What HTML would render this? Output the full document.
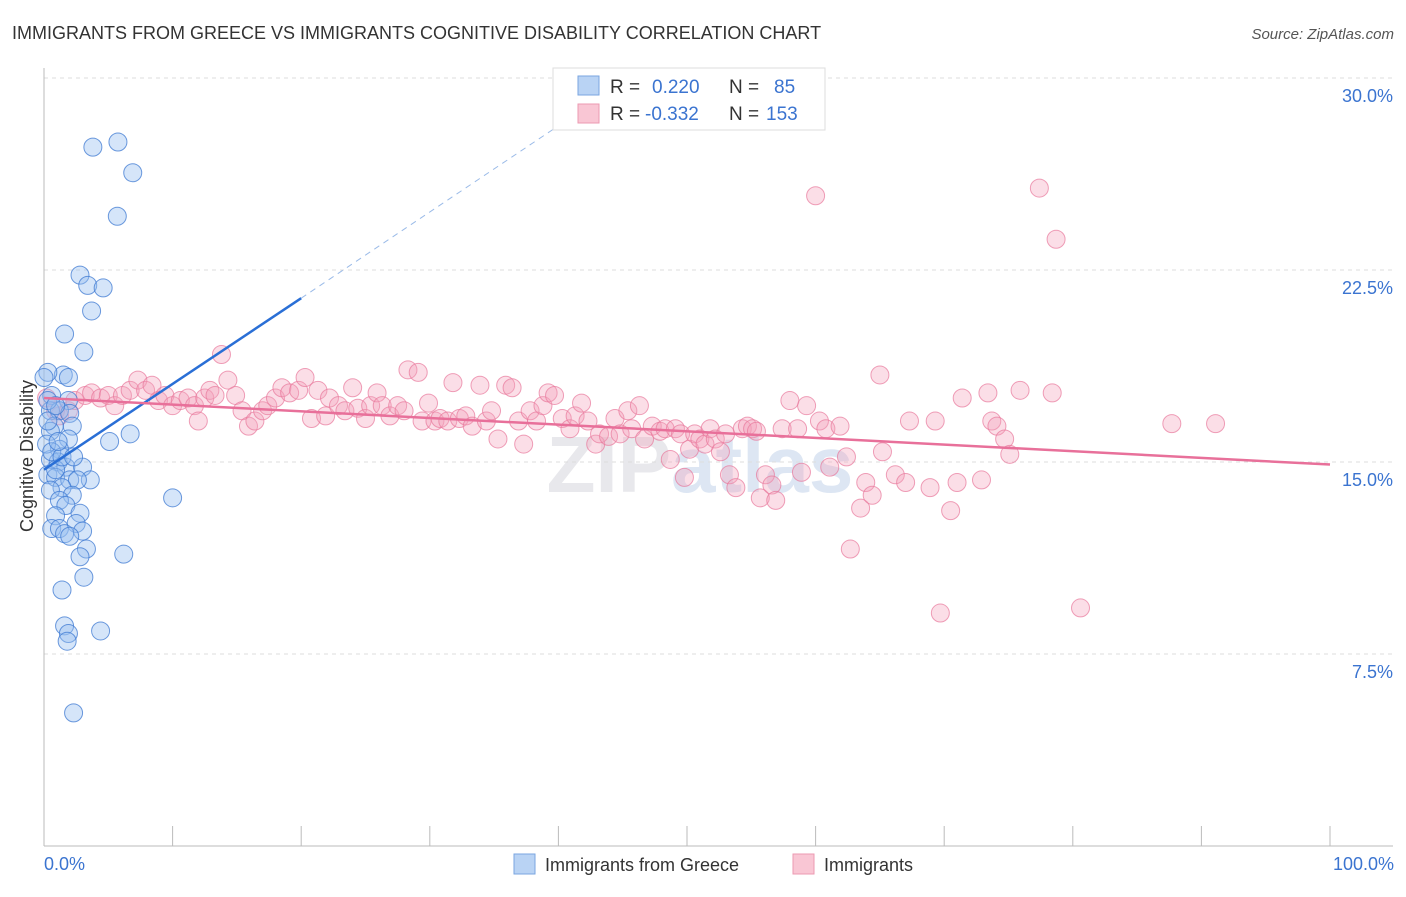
<!DOCTYPE html>
<html><head><meta charset="utf-8"><style>
body{margin:0;background:#fff;font-family:"Liberation Sans",sans-serif;}
svg text{font-family:"Liberation Sans",sans-serif;}
</style></head><body>
<svg id="chart" width="1406" height="892" xmlns="http://www.w3.org/2000/svg">
<text x="12" y="39" font-size="18" fill="#333">IMMIGRANTS FROM GREECE VS IMMIGRANTS COGNITIVE DISABILITY CORRELATION CHART</text>
<text x="1394" y="39" font-size="15" fill="#555" text-anchor="end" font-style="italic">Source: ZipAtlas.com</text>
<text x="700" y="492" font-size="80" fill="#e8e8ec" text-anchor="middle" font-weight="bold">ZIP<tspan fill="#dde6f3">atlas</tspan></text>
<g id="grid"></g>
<g id="axes"></g>
<g id="pink"></g>
<g id="blue"></g>
<g id="trends"></g>
<text transform="translate(33,456) rotate(-90)" font-size="18" fill="#333" text-anchor="middle">Cognitive Disability</text>
<text x="44" y="870" font-size="18" fill="#3b74d0">0.0%</text>
<text x="1394" y="870" font-size="18" fill="#3b74d0" text-anchor="end">100.0%</text>
<g>
<rect x="553" y="68" width="272" height="62" fill="#fff" stroke="#ddd"/>
<rect x="578" y="76" width="21" height="19" fill="#b9d3f4" stroke="#7aa6e0"/>
<rect x="578" y="104" width="21" height="19" fill="#f9c6d4" stroke="#ec9ab2"/>
<text x="610" y="93" font-size="19" fill="#333">R =</text><text x="652" y="93" font-size="19" fill="#3b74d0">0.220</text>
<text x="729" y="93" font-size="19" fill="#333">N =</text><text x="774" y="93" font-size="19" fill="#3b74d0">85</text>
<text x="610" y="120" font-size="19" fill="#333">R =</text><text x="645" y="120" font-size="19" fill="#3b74d0">-0.332</text>
<text x="729" y="120" font-size="19" fill="#333">N =</text><text x="766" y="120" font-size="19" fill="#3b74d0">153</text>
</g>
<g>
<rect x="514" y="854" width="21" height="20" fill="#b9d3f4" stroke="#7aa6e0"/>
<text x="545" y="871" font-size="18" fill="#333">Immigrants from Greece</text>
<rect x="793" y="854" width="21" height="20" fill="#f9c6d4" stroke="#ec9ab2"/>
<text x="824" y="871" font-size="18" fill="#333">Immigrants</text>
</g>
</svg>
<script>
const yTicks=[7.5,15,22.5,30];
const yTickLabels=["7.5%","15.0%","22.5%","30.0%"];
const xTicks=[0,10,20,30,40,50,60,70,80,90,100];
const blueX=[5.75,3.8,6.9,5.7,2.8,3.4,4.6,3.7,1.6,3.1,1.5,1.9,0.3,0.6,1.9,0.5,1.2,2.0,0.8,2.2,0.5,1.9,6.7,5.1,1.2,0.5,1.1,1.7,3.0,0.3,0.9,2.0,3.6,2.6,1.4,0.5,2.2,10.0,1.2,1.7,2.8,0.9,2.5,0.6,1.2,1.6,3.0,2.0,3.3,2.8,6.2,3.1,1.4,1.6,1.9,1.8,4.4,2.3,0.3,0.2,0.6,0.9,1.4,2.3,1.1,0.3,0.9,0.0];
const blueY=[27.5,27.3,26.3,24.6,22.3,21.9,21.8,20.9,20.0,19.3,18.4,18.3,18.5,17.6,17.4,17.0,17.0,16.9,16.4,16.4,16.2,15.9,16.1,15.8,15.5,15.1,15.0,14.8,14.8,14.5,14.4,14.3,14.3,14.3,14.0,13.9,13.7,13.6,13.5,13.3,13.0,12.9,12.6,12.4,12.4,12.2,12.3,12.1,11.6,11.3,11.4,10.5,10.0,8.6,8.3,8.0,8.4,5.2,16.6,15.7,15.4,14.7,15.2,15.2,15.8,17.4,17.2,18.3];
const pinkX=[0.2,0.9,1.2,1.9,2.4,3.2,3.7,4.4,5.0,5.5,6.1,6.7,7.3,7.9,8.4,8.9,9.4,10.0,10.6,11.2,11.7,12.0,12.5,12.9,13.3,13.8,14.3,14.9,15.4,15.9,16.4,17.0,17.4,18.0,18.5,19.1,19.8,20.3,20.8,21.3,21.9,22.2,22.9,23.4,24.0,24.4,25.0,25.4,25.9,26.3,26.9,27.5,28.0,28.3,29.1,29.4,29.9,30.4,30.8,31.4,31.8,32.3,32.8,33.3,33.9,34.4,34.8,35.3,35.9,36.4,36.9,37.3,37.8,38.3,38.8,39.2,39.7,40.3,40.9,41.3,41.8,42.3,42.9,43.2,43.9,44.4,44.8,45.4,45.7,46.3,46.7,47.3,47.9,48.3,48.7,49.1,49.5,49.8,50.2,50.6,51.0,51.4,51.8,52.2,52.6,53.0,53.3,53.8,54.3,54.7,55.1,55.4,55.7,56.1,56.6,56.9,57.4,58.0,58.6,58.9,59.3,60.0,60.3,60.8,61.1,61.9,62.4,62.7,63.5,63.9,64.4,65.0,65.2,66.2,67.0,67.3,68.9,69.3,69.7,70.5,71.0,71.4,72.9,73.4,73.7,74.1,74.7,75.1,75.9,77.4,78.4,78.7,80.6,87.7,91.1];
const pinkY=[17.5,17.0,16.8,17.0,17.4,17.6,17.7,17.5,17.6,17.2,17.6,17.8,18.2,17.8,18.0,17.4,17.6,17.2,17.4,17.5,17.2,16.6,17.5,17.8,17.6,19.2,18.2,17.6,17.0,16.4,16.6,17.0,17.2,17.5,17.9,17.7,17.8,18.3,16.7,17.8,16.8,17.5,17.2,17.0,17.9,17.1,16.7,17.2,17.7,17.2,16.8,17.2,17.0,18.6,18.5,16.6,17.3,16.6,16.7,16.6,18.1,16.7,16.8,16.4,18.0,16.6,17.0,15.9,18.0,17.9,16.6,15.7,17.0,16.6,17.2,17.7,17.6,16.7,16.3,16.8,17.3,16.6,15.7,16.1,16.0,16.7,16.1,17.0,16.3,17.2,15.9,16.4,16.2,16.3,15.1,16.3,16.1,14.4,15.5,16.1,15.9,15.7,16.3,15.9,15.4,16.1,14.5,14.0,16.3,16.4,16.3,16.2,13.6,14.5,14.1,13.5,16.3,17.4,16.3,14.6,17.2,25.4,16.6,16.3,14.8,16.4,15.2,11.6,13.2,14.2,13.7,18.4,15.4,14.5,14.2,16.6,14.0,16.6,9.1,13.1,14.2,17.5,14.3,17.7,16.6,16.4,15.9,15.3,17.8,25.7,17.7,23.7,9.3,16.5,16.5];
const NS="http://www.w3.org/2000/svg";
const X0=44,X1=1330,YB=846,YT=78;
function sx(v){return X0+(X1-X0)*v/100;}
function sy(v){return YB-(YB-YT)*v/30;}
function mk(tag,attrs,parent){const e=document.createElementNS(NS,tag);for(const k in attrs)e.setAttribute(k,attrs[k]);document.getElementById(parent).appendChild(e);return e;}
yTicks.forEach((t,i)=>{
  const l=mk('line',{x1:X0,x2:1393,y1:sy(t),y2:sy(t),stroke:'#ddd','stroke-dasharray':'4,4'},'grid');
  
  
  const tx=mk('text',{x:1393,y:sy(t)+24,'font-size':18,fill:'#3b74d0','text-anchor':'end'},'grid');
  tx.textContent=yTickLabels[i];
  
  
});
const ya=mk('line',{x1:X0,x2:X0,y1:68,y2:YB,stroke:'#bbb'},'axes');


const xa=mk('line',{x1:X0,x2:1393,y1:YB,y2:YB,stroke:'#bbb'},'axes');


xTicks.forEach(t=>{
  const l=mk('line',{x1:sx(t),x2:sx(t),y1:826,y2:YB,stroke:'#bbb'},'axes');
  
  
});
for(let i=0;i<Math.min(pinkX.length,pinkY.length);i++){
  const c=mk('circle',{cx:sx(pinkX[i]),cy:sy(pinkY[i]),r:9,fill:'rgba(244,160,185,0.35)',stroke:'rgba(232,120,155,0.7)','stroke-width':1},'pink');
  
  
}
for(let i=0;i<Math.min(blueX.length,blueY.length);i++){
  const c=mk('circle',{cx:sx(blueX[i]),cy:sy(blueY[i]),r:9,fill:'rgba(150,190,240,0.4)',stroke:'rgba(60,120,210,0.75)','stroke-width':1},'blue');
  
  
}
const b1=mk('line',{x1:sx(0),y1:sy(14.7),x2:sx(20),y2:sy(21.4),stroke:'#2a6fd6','stroke-width':2.5},'trends');


const b2=mk('line',{x1:sx(20),y1:sy(21.4),x2:sx(40.5),y2:sy(28.3),stroke:'#9bbbe8','stroke-width':1,'stroke-dasharray':'6,5'},'trends');


const p1=mk('line',{x1:sx(0),y1:sy(17.5),x2:sx(100),y2:sy(14.9),stroke:'#e8709a','stroke-width':2.5},'trends');


</script>
</body></html>
